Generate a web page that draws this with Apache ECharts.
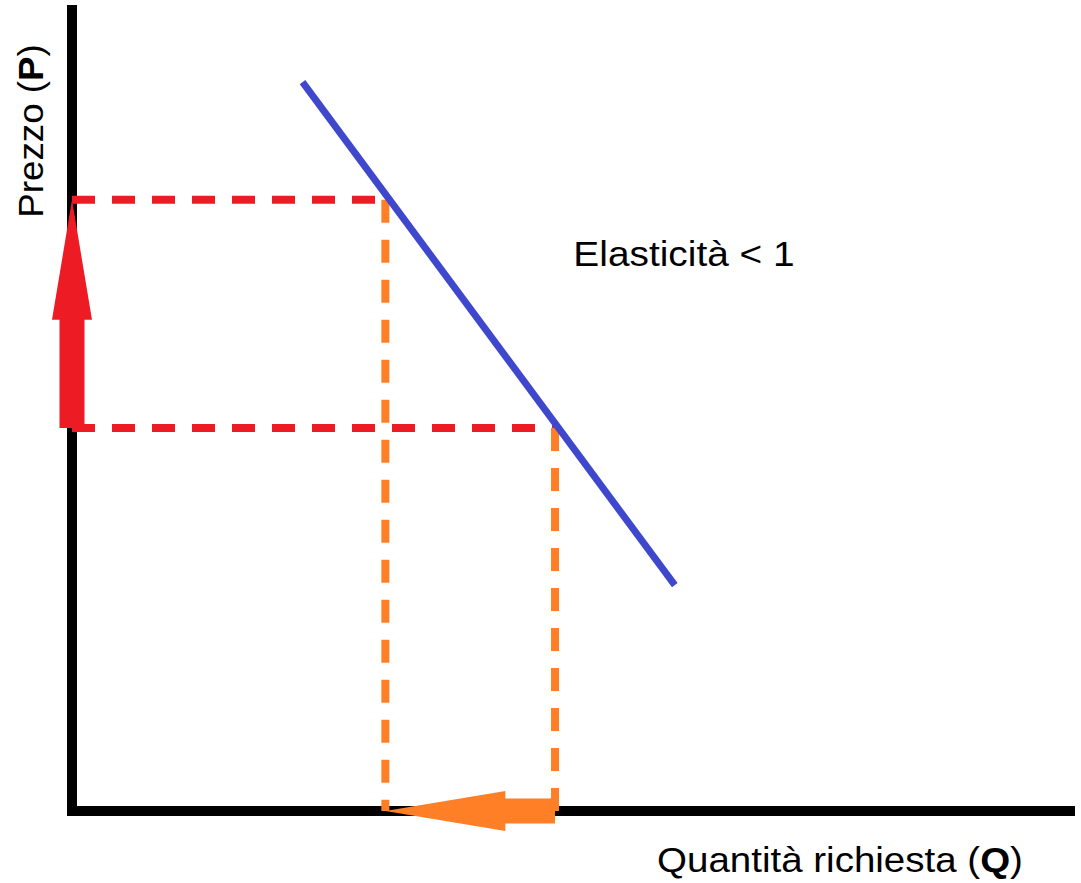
<!DOCTYPE html>
<html>
<head>
<meta charset="utf-8">
<script src="https://cdn.jsdelivr.net/npm/echarts@6/dist/echarts.min.js"></script>
<style>
html, body { margin: 0; padding: 0; background: #fff; }
#main { width: 1081px; height: 883px; }
</style>
</head>
<body>
<div id="main"></div>
<script>
// curva di domanda (Q, P)
const demandQ = [23.1, 60.4];
const demandP = [91.0, 28.2];
// prezzi: prima e dopo l'aumento
const priceLevels = [76.3, 47.8];
// quantità richieste ai due prezzi
const quantityLevels = [31.4, 48.4];

const RED = '#ED1C24';
const ORANGE = '#FF7F27';
const BLUE = '#3F48CC';
const FONT = 'Liberation Sans, Arial, sans-serif';

var chart = echarts.init(document.getElementById('main'), null, { renderer: 'svg' });

function dashed(points, color) {
  return {
    type: 'line',
    data: points,
    symbol: 'none',
    silent: true,
    z: 3,
    lineStyle: { color: color, width: 8, type: [23, 17], cap: 'butt' }
  };
}

// freccia piena: [x0, y0, x1, y1] in unità del grafico
function arrowItem(params, api) {
  var a = api.coord([api.value(0), api.value(1)]);
  var b = api.coord([api.value(2), api.value(3)]);
  var dx = b[0] - a[0], dy = b[1] - a[1];
  var len = Math.sqrt(dx * dx + dy * dy);
  var ux = dx / len, uy = dy / len;
  var nx = -uy, ny = ux;
  var shaft = 12.5, head = 20, headLen = 120;
  var bx = b[0] - ux * headLen, by = b[1] - uy * headLen;
  var pts = [
    [a[0] + nx * shaft, a[1] + ny * shaft],
    [bx + nx * shaft, by + ny * shaft],
    [bx + nx * head, by + ny * head],
    [b[0], b[1]],
    [bx - nx * head, by - ny * head],
    [bx - nx * shaft, by - ny * shaft],
    [a[0] - nx * shaft, a[1] - ny * shaft]
  ];
  return {
    type: 'polygon',
    shape: { points: pts },
    style: { fill: api.visual('color') }
  };
}

var rich = {
  n: { fontFamily: FONT, fontSize: 35, fill: '#000' },
  b: { fontFamily: FONT, fontSize: 35, fontWeight: 'bold', fill: '#000' }
};

var option = {
  animation: false,
  grid: { left: 72, right: 11, top: 10, bottom: 72 },
  xAxis: {
    type: 'value', min: 0, max: 100,
    axisLine: { show: true, lineStyle: { color: '#000', width: 10, cap: 'square' } },
    axisTick: { show: false }, axisLabel: { show: false }, splitLine: { show: false }
  },
  yAxis: {
    type: 'value', min: 0, max: 100,
    axisLine: { show: true, lineStyle: { color: '#000', width: 10, cap: 'square' } },
    axisTick: { show: false }, axisLabel: { show: false }, splitLine: { show: false }
  },
  series: [
    dashed([[0, priceLevels[0]], [quantityLevels[0], priceLevels[0]]], RED),
    dashed([[0, priceLevels[1]], [quantityLevels[1], priceLevels[1]]], RED),
    dashed([[quantityLevels[0], priceLevels[0]], [quantityLevels[0], 0]], ORANGE),
    dashed([[quantityLevels[1], priceLevels[1]], [quantityLevels[1], 0]], ORANGE),
    {
      type: 'line',
      data: demandQ.map(function (q, i) { return [q, demandP[i]]; }),
      symbol: 'none',
      silent: true,
      z: 4,
      lineStyle: { color: BLUE, width: 7 }
    },
    {
      type: 'custom',
      renderItem: arrowItem,
      z: 5,
      itemStyle: { color: RED },
      encode: { x: [0, 2], y: [1, 3] },
      data: [[0, priceLevels[1], 0, priceLevels[0]]]
    },
    {
      type: 'custom',
      renderItem: arrowItem,
      z: 5,
      itemStyle: { color: ORANGE },
      encode: { x: [0, 2], y: [1, 3] },
      data: [[quantityLevels[1], 0, quantityLevels[0], 0]]
    }
  ],
  graphic: [
    {
      type: 'text',
      x: 31, y: 131,
      rotation: Math.PI / 2,
      scaleX: 1.05,
      style: {
        text: '{n|Prezzo (}{b|P}{n|)}',
        align: 'center', verticalAlign: 'middle',
        rich: rich
      }
    },
    {
      type: 'text',
      x: 684, y: 254,
      scaleX: 1.11,
      style: {
        text: 'Elasticità < 1',
        fontFamily: FONT, fontSize: 35, fill: '#000',
        align: 'center', verticalAlign: 'middle'
      }
    },
    {
      type: 'text',
      x: 840, y: 860,
      scaleX: 1.1,
      style: {
        text: '{n|Quantità richiesta (}{b|Q}{n|)}',
        align: 'center', verticalAlign: 'middle',
        rich: rich
      }
    }
  ]
};

chart.setOption(option);

window.addEventListener('resize', function () {
  chart.resize();
});
</script>
</body>
</html>
